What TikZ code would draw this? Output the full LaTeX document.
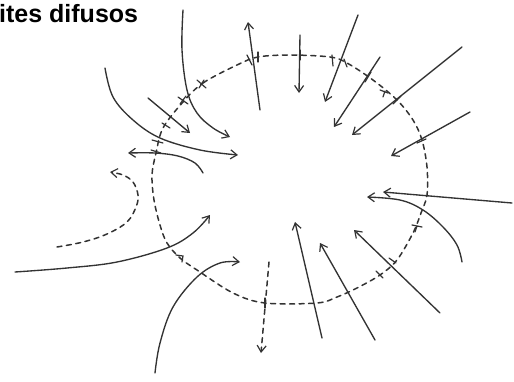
\documentclass[tikz,border=0pt]{standalone}
\usepackage{fontspec}
\setmainfont{Liberation Sans}
\usetikzlibrary{arrows.meta}
\begin{document}
\begin{tikzpicture}[x=1pt,y=-1pt,
  pen/.style={line width=1.35pt, black!80, line cap=round, line join=round},
  tip/.style={-{Straight Barb[length=6.5pt,width=9pt,line width=1.2pt]}},
  dsh/.style={pen, line width=1.5pt, dash pattern=on 5pt off 4.5pt},
  tk/.style={line width=1.2pt, black!80, line cap=round}]
\useasboundingbox (0,0) rectangle (514,381);
\node[anchor=base west, inner sep=0, font=\fontsize{25}{25}\selectfont\bfseries] (title) at (-1,22) {ites difusos};

% fuzzy boundary
\draw[dsh] plot[smooth cycle, tension=0.55] coordinates {
 (183,102) (203,83) (237,65) (258,57) (290,55) (330,57) (347,63) (373,80)
 (397,100) (413,120) (422,140) (427,167) (427,195) (421,213) (413,233)
 (397,260) (380,275) (357,288) (337,297) (317,303) (265,303) (233,293)
 (197,270) (180,258) (167,243) (160,225) (154,200) (152,175) (156,153) (163,128)};

% ticks on the boundary
\draw[tk] (247,55)--(252,65);
\draw[tk] (258,52)--(258,62);
\draw[tk] (300,50)--(300,60);
\draw[tk] (332,55)--(333,66);
\draw[tk] (344,59)--(347,67);
\draw[tk] (365,82)--(371,72);
\draw[tk] (380,90)--(388,93) (385,91)--(383,97);
\draw[tk] (393,104)--(401,96);
\draw[tk] (417,143)--(426,139);
\draw[tk] (412,225)--(422,227) (417,226)--(415,232);
\draw[tk] (389,258)--(396,263);
\draw[tk] (376,271)--(383,278);
\draw[tk] (265,298)--(265,308);
\draw[tk] (176,255)--(183,256)--(182,262);
\draw[tk] (152,140)--(163,143);
\draw[tk] (151,150)--(161,153);
\draw[tk] (178,97)--(188,104) (180,104)--(186,96);
\draw[tk] (197,80)--(206,88) (199,88)--(204,80);
\draw[tk] (162,123)--(170,128);

% arrows from upper left
\draw[pen,tip] plot[smooth, tension=0.6] coordinates {(183,10) (182,50) (187,90) (197,113) (213,128) (230,137)};
\draw[pen,tip] plot[smooth, tension=0.6] coordinates {(105,68) (113,97) (133,120) (160,138) (200,150) (238,155)};
\draw[pen,tip] (148,98) -- (190,133);
\draw[pen,tip] plot[smooth, tension=0.6] coordinates {(203,173) (195,163) (178,156) (155,153) (128,153)};
\draw[dsh,tip] plot[smooth, tension=0.6] coordinates {(57,247) (83,242) (107,234) (127,222) (136,207) (138,195) (133,182) (123,175) (110,172)};
\draw[pen,tip] plot[smooth, tension=0.6] coordinates {(15,272) (67,268) (117,262) (167,248) (193,233) (210,215)};
\draw[pen,tip] plot[smooth, tension=0.6] coordinates {(155,373) (160,343) (173,307) (197,277) (220,263) (240,262)};

% lower arrows
\draw[dsh,tip] (269,262) -- (261,353);
\draw[pen,tip] (322,338) -- (295,222);
\draw[pen,tip] (375,340) -- (320,243);
\draw[pen,tip] (440,313) -- (354,230);
\draw[pen,tip] plot[smooth, tension=0.6] coordinates {(462,262) (457,245) (443,227) (423,210) (400,200) (367,197)};
\draw[pen,tip] (512,203) -- (383,192);

% upper right arrows
\draw[pen,tip] (300,35) -- (299,93);
\draw[pen,tip] (358,15) -- (325,102);
\draw[pen,tip] (380,57) -- (334,127);
\draw[pen,tip] (462,47) -- (352,135);
\draw[pen,tip] (470,112) -- (391,156);
\draw[pen,tip] (260,110) -- (248,22);
\end{tikzpicture}
\end{document}
